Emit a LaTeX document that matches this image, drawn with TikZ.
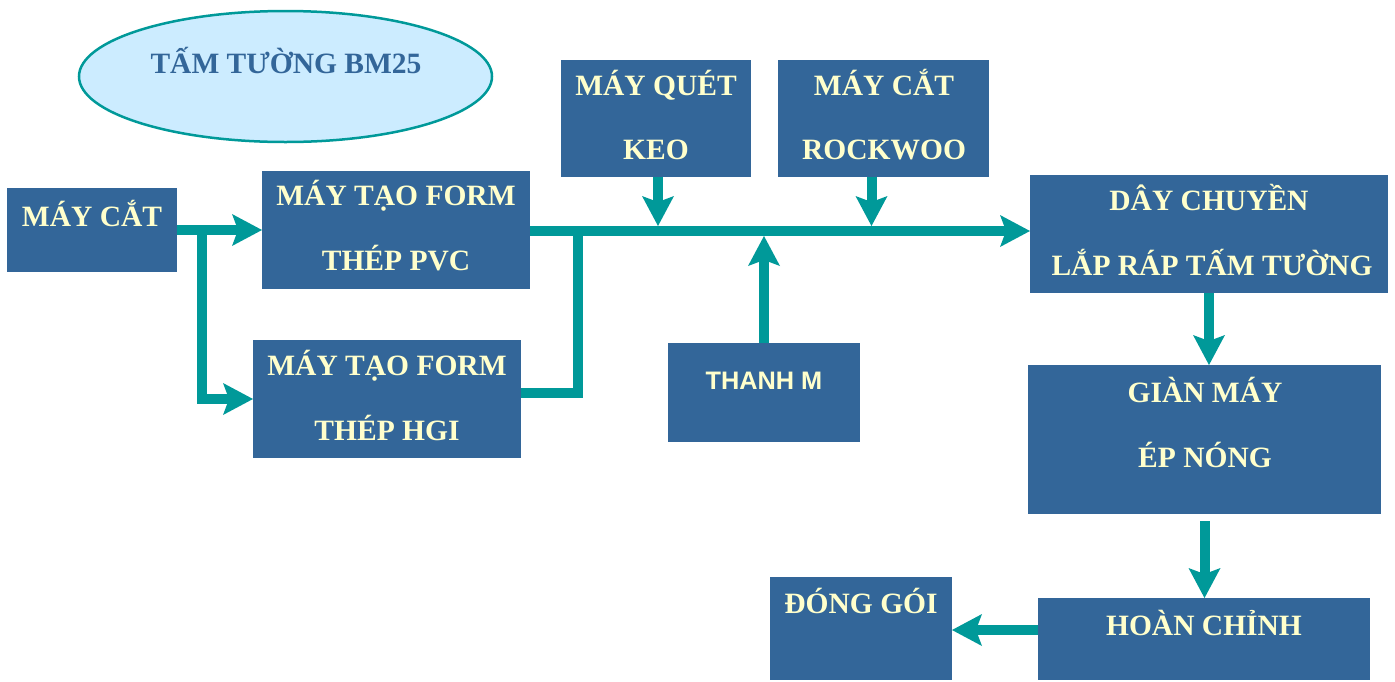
\documentclass[tikz,border=0pt]{standalone}
\usepackage{fontspec}
\setmainfont{Liberation Serif}
\newfontfamily\sansbold{Liberation Sans}
\usetikzlibrary{arrows.meta,shapes.geometric}
\definecolor{boxblue}{HTML}{336699}
\definecolor{flowteal}{HTML}{009999}
\definecolor{labelcream}{HTML}{FFFFCC}
\definecolor{ovalfill}{HTML}{CCECFF}

\begin{document}
\begin{tikzpicture}[x=1pt,y=-1pt,
  stage/.style={fill=boxblue, inner sep=0pt, outer sep=0pt},
  caption/.style={anchor=base, inner sep=0pt, text=labelcream,
    font=\fontsize{29.5}{31}\selectfont\bfseries},
  flow/.style={draw=flowteal, line width=10pt},
  flowarrow/.style={flow, -{Stealth[length=30pt,width=32pt,inset=6pt,line width=0pt]}}]

\useasboundingbox (0,0) rectangle (1395,681);

% title oval
\node[ellipse, draw=flowteal, fill=ovalfill, line width=2.5pt,
      minimum width=413pt, minimum height=131pt, inner sep=0pt] (title) at (285.5,76.5) {};
\node[caption, text=boxblue] (t-title) at (286,73) {TẤM TƯỜNG BM25};

% process boxes
\node[stage, minimum width=170pt, minimum height=84pt]  (cut)   at (92,230)    {};
\node[stage, minimum width=268pt, minimum height=118pt] (pvc)   at (396,230)   {};
\node[stage, minimum width=268pt, minimum height=118pt] (hgi)   at (387,399)   {};
\node[stage, minimum width=190pt, minimum height=117pt] (keo)   at (656,118.5) {};
\node[stage, minimum width=211pt, minimum height=117pt] (rock)  at (883.5,118.5) {};
\node[stage, minimum width=358pt, minimum height=118pt] (day)   at (1209,234)  {};
\node[stage, minimum width=192pt, minimum height=99pt]  (thanh) at (764,392.5) {};
\node[stage, minimum width=353pt, minimum height=149pt] (gian)  at (1204.5,439.5) {};
\node[stage, minimum width=332pt, minimum height=82pt]  (hoan)  at (1204,639)  {};
\node[stage, minimum width=182pt, minimum height=103pt] (dong)  at (861,628.5) {};

% box captions
\node[caption] (t-cut)    at (92,226)   {MÁY CẮT};
\node[caption] (t-pvc1)   at (396,205)  {MÁY TẠO FORM};
\node[caption] (t-pvc2)   at (396,270)  {THÉP PVC};
\node[caption] (t-hgi1)   at (387,375)  {MÁY TẠO FORM};
\node[caption] (t-hgi2)   at (387,440)  {THÉP HGI};
\node[caption] (t-keo1)   at (656,95)   {MÁY QUÉT};
\node[caption] (t-keo2)   at (656,159)  {KEO};
\node[caption] (t-rock1)  at (884,95)   {MÁY CẮT};
\node[caption] (t-rock2)  at (884,159)  {ROCKWOO};
\node[caption] (t-day1)   at (1209,210) {DÂY CHUYỀN};
\node[caption] (t-day2)   at (1212,275) {LẮP RÁP TẤM TƯỜNG};
\node[caption, font=\sansbold\fontsize{25.3}{27}\selectfont\bfseries] (t-thanh) at (764,389) {THANH M};
\node[caption] (t-gian1)  at (1205,402) {GIÀN MÁY};
\node[caption] (t-gian2)  at (1205,467) {ÉP NÓNG};
\node[caption] (t-hoan)   at (1204,635) {HOÀN CHỈNH};
\node[caption] (t-dong)   at (861,613)  {ĐÓNG GÓI};

% reference heights of the main conveyor line
\coordinate (busTop) at (0,226);
\coordinate (busBot) at (0,236);
\coordinate (tee)    at (578,231);

% connectors
\draw[flowarrow] (cut.east) -- (pvc.west |- cut.east);
\coordinate (split) at ([xshift=25pt]cut.east);
\draw[flowarrow] (split) |- (hgi.west);

\coordinate (pvcOut) at ([yshift=-1pt]pvc.east);
\draw[flowarrow] (pvcOut) -- (day.west |- pvcOut);
\coordinate (hgiOut) at ([yshift=6pt]hgi.east);
\draw[flow] (hgiOut) -| (tee);

\coordinate (keoDrop) at ([xshift=2pt]keo.south);
\draw[flowarrow] (keoDrop) -- (keoDrop |- busTop);
\coordinate (rockDrop) at ([xshift=-12pt]rock.south);
\draw[flowarrow] (rockDrop) -- (rockDrop |- busTop);
\draw[flowarrow] (thanh.north) -- (thanh.north |- busBot);

\draw[flowarrow] (day.south) -- (day.south |- gian.north);
\coordinate (gianOut) at ([yshift=-7pt]gian.south);
\draw[flowarrow] (gianOut) -- (gianOut |- hoan.north);
\coordinate (hoanOut) at ([yshift=9pt]hoan.west);
\draw[flowarrow] (hoanOut) -- (hoanOut -| dong.east);
\end{tikzpicture}
\end{document}
